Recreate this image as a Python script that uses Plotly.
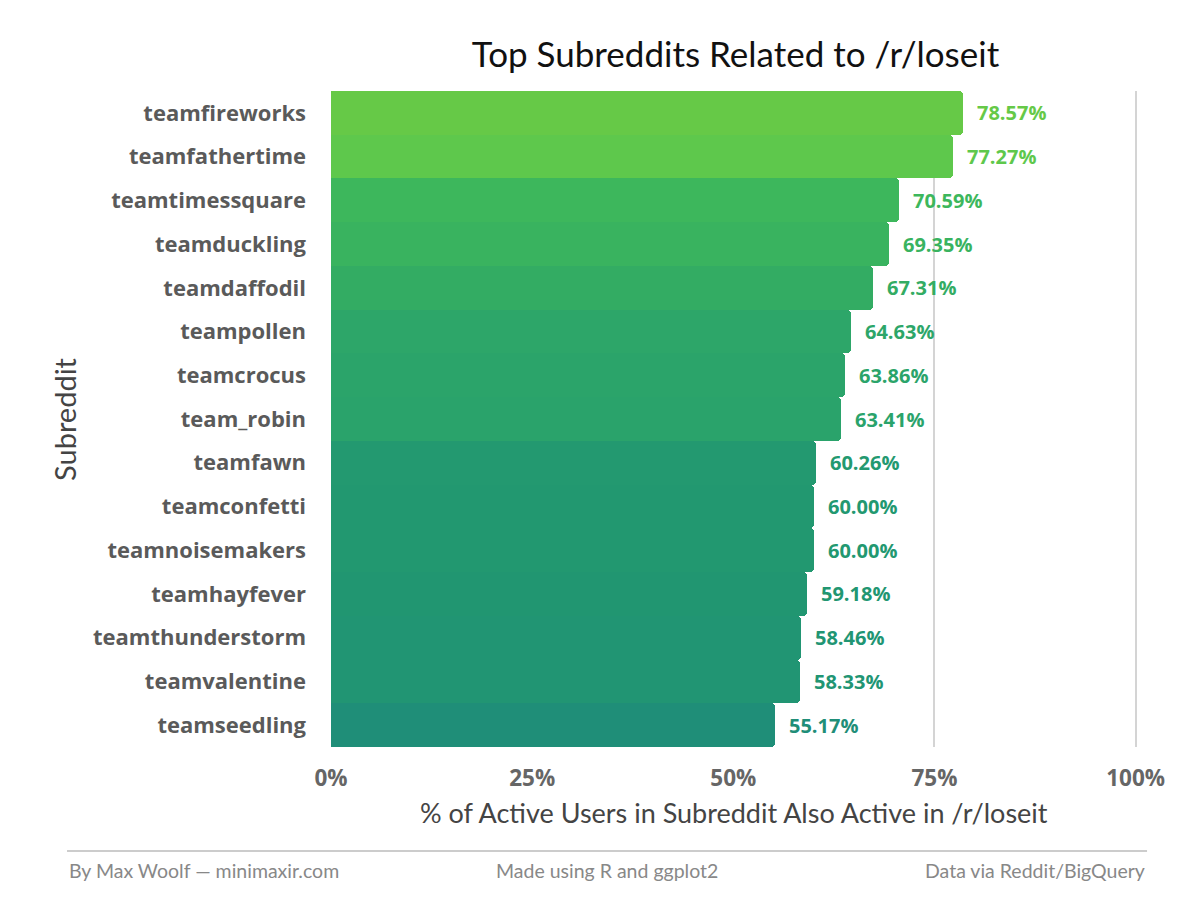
import plotly.graph_objects as go
from plotly.colors import sample_colorscale

subreddits = ["teamfireworks", "teamfathertime", "teamtimessquare", "teamduckling",
              "teamdaffodil", "teampollen", "teamcrocus", "team_robin", "teamfawn",
              "teamconfetti", "teamnoisemakers", "teamhayfever", "teamthunderstorm",
              "teamvalentine", "teamseedling"]
pct = [78.57, 77.27, 70.59, 69.35, 67.31, 64.63, 63.86, 63.41, 60.26,
       60.00, 60.00, 59.18, 58.46, 58.33, 55.17]
x_ticks = [0, 25, 50, 75, 100]
x_tick_labels = ["0%", "25%", "50%", "75%", "100%"]

colorscale = [[0.0, "#1f8e78"], [0.206, "#229870"], [0.356, "#2aa36b"],
              [0.519, "#33ac63"], [0.659, "#3db75c"], [0.944, "#5ec84c"], [1.0, "#66c947"]]
cmin, cmax = min(pct), max(pct)
norm = [(v - cmin) / (cmax - cmin) for v in pct]
colors = sample_colorscale(colorscale, norm)

BOLD = "Open Sans"
LIGHT = "Lato"

fig = go.Figure()
fig.add_trace(go.Bar(
    y=subreddits, x=pct, orientation="h",
    marker=dict(color=colors, line=dict(width=0)),
    hoverinfo="x+y",
))

annotations = []
for s, v, c in zip(subreddits, pct, colors):
    annotations.append(dict(
        x=v, y=s, xref="x", yref="y", text=f"{v:.2f}%", showarrow=False,
        xanchor="left", yanchor="middle", xshift=12,
        font=dict(family=BOLD, size=20, color=c, weight="bold"),
    ))

# axis titles and footer
annotations.append(dict(
    x=-0.3309, y=0.5, xref="paper", yref="paper", text="Subreddit", textangle=-90,
    showarrow=False, xanchor="center", yanchor="middle",
    font=dict(family=LIGHT, size=29, color="#444444"),
))
annotations.append(dict(
    x=0.4988, y=-0.0991, xref="paper", yref="paper",
    text="% of Active Users in Subreddit Also Active in /r/loseit",
    showarrow=False, xanchor="center", yanchor="middle",
    font=dict(family=LIGHT, size=27, color="#444444"),
))
foot_y = -0.189
annotations.append(dict(x=-0.3271, y=foot_y, xref="paper", yref="paper",
                        text="By Max Woolf — minimaxir.com", showarrow=False,
                        xanchor="left", yanchor="middle",
                        font=dict(family=LIGHT, size=19.5, color="#888888")))
annotations.append(dict(x=0.342, y=foot_y, xref="paper", yref="paper",
                        text="Made using R and ggplot2", showarrow=False,
                        xanchor="center", yanchor="middle",
                        font=dict(family=LIGHT, size=19.5, color="#888888")))
annotations.append(dict(x=1.0112, y=foot_y, xref="paper", yref="paper",
                        text="Data via Reddit/BigQuery", showarrow=False,
                        xanchor="right", yanchor="middle",
                        font=dict(family=LIGHT, size=19.5, color="#888888")))

fig.update_layout(
    width=1200, height=900,
    margin=dict(l=331, r=62, t=91, b=153),
    paper_bgcolor="white", plot_bgcolor="white",
    title=dict(text="Top Subreddits Related to /r/loseit", x=0.6129, xref="container",
               xanchor="center", y=1 - 55 / 900, yref="container", yanchor="middle",
               font=dict(family=LIGHT, size=35, color="#111111")),
    bargap=0.0,
    barcornerradius=4,
    showlegend=False,
    annotations=annotations,
    shapes=[dict(type="line", xref="paper", yref="paper",
                 x0=-0.3271, x1=1.0112, y0=-0.1585, y1=-0.1585,
                 line=dict(color="#cccccc", width=2))],
    xaxis=dict(range=[0, 100.3], tickvals=x_ticks, ticktext=x_tick_labels,
               showgrid=True, gridcolor="#d4d4d4", gridwidth=2, zeroline=False,
               showline=False, ticks="", ticklabelstandoff=15,
               tickfont=dict(family=BOLD, size=22.5, color="#666666", weight="bold")),
    yaxis=dict(showgrid=False, zeroline=False, showline=False,
               ticks="", ticklabelstandoff=24,
               tickfont=dict(family=BOLD, size=22, color="#5a5a5a", weight="bold")),
)
fig.update_yaxes(range=[14.5, -0.5], autorange=False)

fig.write_html("out.html")
